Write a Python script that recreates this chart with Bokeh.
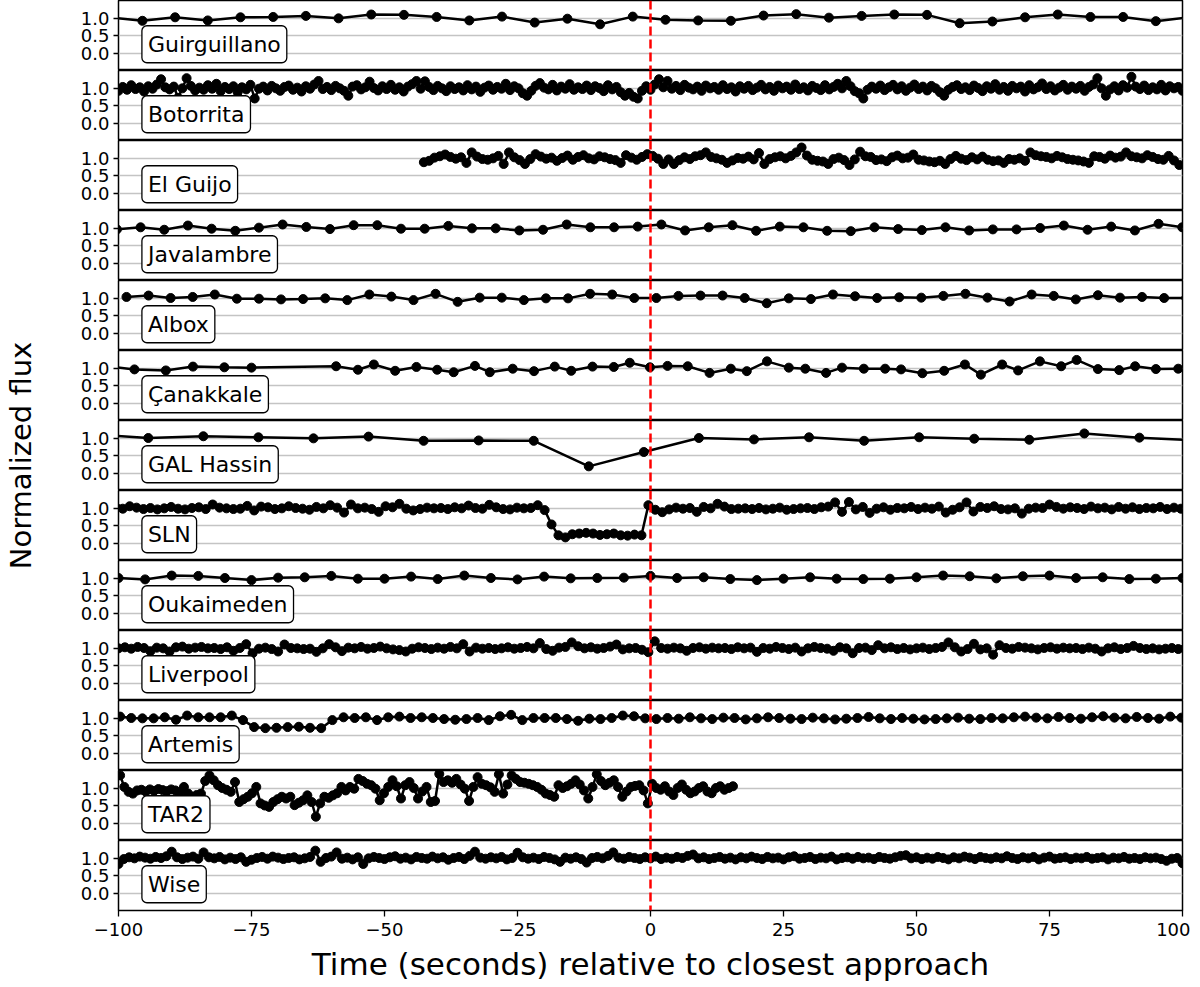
import numpy as np
from bokeh.plotting import figure
from bokeh.layouts import column, row
from bokeh.models import (Span, Label, FixedTicker, PrintfTickFormatter,
                          CustomJSTickFormatter, Range1d)
from bokeh.embed import file_html
from bokeh.resources import INLINE

# ---------------------------------------------------------------- data
stations = ["Guirguillano", "Botorrita", "El Guijo", "Javalambre", "Albox",
            "Çanakkale", "GAL Hassin", "SLN", "Oukaimeden", "Liverpool",
            "Artemis", "TAR2", "Wise"]

x_ticks = [-100, -75, -50, -25, 0, 25, 50, 75, 100]
y_ticks = [0.0, 0.5, 1.0]

# evenly sampled light curves: first time, cadence (s), normalized flux
guirguillano_t0, guirguillano_dt = -101.65, 6.145
guirguillano_flux = [1.02, 0.92, 1.02, 0.93, 1.02, 1.03, 1.06, 0.99, 1.10, 1.09,
                     1.03, 0.93, 1.04, 0.87, 0.98, 0.82, 1.04, 0.95, 0.93, 0.92,
                     1.07, 1.11, 1.01, 1.06, 1.10, 1.09, 0.85, 0.90, 1.02, 1.10,
                     1.03, 1.03, 0.91, 1.02]

botorrita_t0, botorrita_dt = -100.0, 0.8
botorrita_flux = [
    0.92, 1.03, 0.95, 1.08, 0.97, 1.02, 0.90, 1.05, 0.98, 1.10,
    1.25, 1.02, 0.96, 1.04, 0.72, 0.99, 1.28, 1.06, 0.93, 1.01,
    0.95, 1.08, 0.98, 1.12, 0.91, 1.03, 0.97, 1.05, 0.88, 1.02,
    0.96, 1.09, 0.70, 0.98, 1.04, 0.93, 1.06, 0.99, 0.92, 1.03,
    1.07, 0.95, 1.01, 0.90, 1.05, 0.98, 1.10, 1.20, 0.97, 1.03,
    0.94, 1.06, 0.99, 0.92, 0.78, 1.04, 1.08, 0.96, 1.02, 1.18,
    1.00, 0.93, 1.05, 0.97, 1.09, 0.95, 1.02, 0.90, 1.04, 1.11,
    1.20, 0.98, 1.19, 1.03, 0.94, 1.06, 0.99, 0.91, 1.05, 0.97,
    1.02, 0.93, 1.08, 0.96, 1.04, 0.89, 1.01, 1.07, 0.95, 1.03,
    0.98, 1.12, 0.94, 1.05, 0.99, 0.85, 0.78, 0.92, 1.06, 1.14,
    1.01, 0.96, 1.09, 0.93, 1.04, 0.98, 1.11, 0.95, 1.02, 0.97,
    1.07, 0.94, 1.05, 1.00, 0.91, 1.08, 0.96, 1.03, 0.88, 0.78,
    0.86, 0.75, 0.70, 0.92, 1.05, 0.95, 1.10, 1.25, 1.02, 1.20,
    0.98, 1.06, 0.94, 1.09, 1.01, 0.96, 1.04, 0.92, 1.07, 0.99,
    1.03, 0.95, 1.08, 0.97, 1.02, 0.90, 1.05, 0.98, 1.06, 0.94,
    1.01, 1.09, 0.96, 1.03, 0.92, 1.07, 0.99, 1.04, 0.95, 1.10,
    0.97, 1.02, 0.93, 1.06, 1.00, 0.94, 1.08, 0.96, 1.03, 1.12,
    0.99, 1.20, 1.05, 0.91, 0.85, 0.70, 0.95, 1.04, 0.98, 1.07,
    0.94, 1.02, 1.09, 0.96, 1.05, 0.92, 1.01, 1.10, 0.97, 1.04,
    0.93, 1.06, 0.99, 0.88, 0.78, 0.95, 1.03, 1.08, 0.97, 1.02,
    0.94, 1.07, 1.00, 0.91, 1.05, 0.98, 1.11, 0.95, 1.03, 0.92,
    1.06, 0.99, 1.04, 0.90, 1.08, 0.96, 1.02, 1.13, 0.97, 1.05,
    0.93, 1.01, 1.09, 0.95, 1.04, 0.98, 1.06, 0.92, 1.03, 1.10,
    1.28, 0.99, 0.78, 0.96, 1.05, 0.93, 1.08, 1.01, 1.32, 1.04,
    0.97, 1.07, 0.94, 1.02, 0.96, 1.09, 0.93, 1.05, 0.99, 1.03,
    0.92]

el_guijo_t0, el_guijo_dt = -42.6, 1.0
el_guijo_flux = [
    0.88, 0.92, 1.01, 1.05, 1.10, 1.03, 0.98, 1.02, 0.86, 1.16,
    1.04, 0.97, 0.95, 0.99, 1.06, 0.83, 1.16, 1.02, 0.94, 0.83,
    0.97, 1.11, 1.04, 0.98, 1.01, 0.92, 1.00, 1.07, 0.95, 1.03,
    1.08, 0.99, 0.96, 1.05, 1.02, 0.97, 0.94, 0.86, 1.08, 1.01,
    0.95, 1.03, 1.11, 1.06, 0.98, 0.83, 0.96, 0.83, 0.94, 1.02,
    0.97, 1.05, 1.08, 1.16, 1.03, 0.99, 0.95, 0.86, 0.93, 1.00,
    0.98, 1.04, 0.96, 1.14, 0.83, 0.97, 1.02, 1.05, 0.99, 1.06,
    1.16, 1.30, 1.07, 0.95, 0.92, 0.90, 0.83, 0.97, 1.01, 0.94,
    0.80, 0.96, 1.18, 1.05, 1.03, 0.94, 0.96, 0.91, 1.02, 1.07,
    0.99, 1.01, 1.10, 0.95, 0.93, 0.90, 0.88, 0.92, 0.83, 0.97,
    1.06, 0.98, 0.94, 1.02, 0.96, 1.04, 0.95, 0.91, 0.93, 0.86,
    0.97, 0.95, 0.99, 0.92, 1.16, 1.08, 1.05, 1.03, 0.99, 1.06,
    1.02, 0.97, 0.95, 0.93, 0.90, 0.86, 1.05, 1.03, 0.98, 1.07,
    1.01, 1.04, 1.16, 1.05, 1.02, 0.99, 1.08, 1.03, 0.97, 0.95,
    1.06, 0.93, 0.80]

javalambre_t0, javalambre_dt = -100.3, 4.45
javalambre_flux = [0.96, 1.02, 0.95, 1.07, 0.98, 0.92, 1.01, 1.10, 1.03, 0.97,
                   1.08, 1.08, 0.98, 0.98, 1.06, 0.99, 0.99, 0.93, 0.95, 1.10,
                   1.02, 1.02, 1.04, 1.10, 0.93, 1.02, 1.08, 0.92, 1.04, 1.02,
                   0.92, 0.91, 1.02, 0.97, 0.94, 1.02, 0.93, 0.96, 0.96, 1.00,
                   1.07, 0.95, 1.04, 0.93, 1.12, 1.02]

albox_t0, albox_dt = -98.5, 4.15
albox_flux = [1.03, 1.07, 1.00, 1.03, 1.10, 0.98, 0.98, 0.96, 0.97, 0.99,
              0.94, 1.10, 1.04, 0.94, 1.12, 0.89, 1.01, 1.01, 0.94, 0.99,
              0.99, 1.12, 1.10, 1.00, 1.00, 1.06, 1.07, 1.07, 1.00, 0.85,
              0.99, 0.97, 1.10, 1.05, 1.00, 1.02, 1.01, 1.06, 1.12, 1.01,
              0.90, 1.10, 1.06, 0.96, 1.08, 1.01, 1.03, 1.00, 1.00]

# unevenly sampled
canakkale_time = [-101.5, -97.0, -91.1, -86.0, -80.1, -75.0, -59.1, -55.0, -52.0, -48.0,
                  -44.0, -40.1, -37.0, -33.0, -30.2, -25.9, -21.9, -18.0, -14.9, -10.9,
                  -6.9, -3.9, -0.1, 3.2, 7.0, 11.1, 15.1, 18.1, 21.9, 26.0,
                  29.1, 33.0, 36.0, 40.1, 44.1, 47.1, 51.1, 55.2, 59.1, 62.1,
                  66.1, 69.1, 73.2, 77.2, 80.1, 84.1, 88.1, 91.1, 95.0, 99.2]
canakkale_flux = [1.04, 0.96, 0.93, 1.04, 1.02, 1.01, 1.05, 0.95, 1.10, 0.92,
                  1.03, 0.95, 0.88, 1.06, 0.88, 0.98, 0.91, 1.04, 0.92, 1.04,
                  1.03, 1.15, 1.02, 1.06, 1.05, 0.86, 0.98, 0.91, 1.19, 1.01,
                  0.98, 0.86, 1.01, 0.98, 0.98, 0.96, 0.85, 0.92, 1.10, 0.81,
                  1.10, 0.93, 1.19, 1.05, 1.23, 0.97, 0.94, 1.05, 0.97, 0.98]

gal_hassin_t0, gal_hassin_dt = -104.75, 10.35
gal_hassin_flux = [1.10, 1.00, 1.05, 1.02, 0.99, 1.04, 0.92, 0.93, 0.92, 0.19,
                   0.60, 1.00, 0.96, 1.02, 0.92, 1.02, 0.98, 0.95, 1.13, 1.01,
                   0.93]

sln_t0, sln_dt = -100.5, 1.3
sln_flux = [
    1.02, 0.98, 1.05, 1.01, 0.97, 1.00, 0.96, 0.99, 1.03, 0.98,
    0.96, 1.00, 1.02, 0.97, 1.10, 1.01, 0.99, 0.97, 0.98, 1.06,
    0.93, 1.04, 1.02, 0.97, 0.99, 1.05, 1.00, 0.98, 0.95, 1.03,
    0.99, 1.08, 1.01, 0.87, 1.10, 0.99, 1.01, 0.97, 0.89, 1.05,
    1.02, 1.12, 0.98, 0.93, 0.97, 1.01, 0.99, 1.00, 0.97, 1.02,
    0.99, 1.07, 1.00, 0.98, 1.09, 1.02, 0.97, 0.96, 1.01, 0.99,
    1.00, 1.08, 0.94, 0.53, 0.22, 0.16, 0.25, 0.27, 0.29, 0.27,
    0.23, 0.25, 0.27, 0.22, 0.21, 0.24, 0.22, 1.08, 0.95, 0.88,
    0.96, 1.01, 0.98, 1.00, 0.89, 1.03, 0.99, 1.12, 1.04, 0.97,
    0.98, 0.99, 0.97, 1.00, 0.96, 0.98, 1.01, 0.95, 0.97, 0.99,
    1.00, 0.97, 1.02, 1.04, 1.16, 0.89, 1.17, 0.96, 1.03, 0.86,
    0.98, 1.02, 0.95, 1.00, 0.99, 1.03, 0.97, 1.01, 0.98, 1.04,
    0.87, 0.95, 1.02, 1.16, 0.90, 1.03, 1.00, 1.05, 0.97, 0.96,
    0.99, 0.84, 0.98, 1.01, 1.00, 1.10, 1.03, 0.98, 1.02, 1.00,
    0.97, 1.04, 0.99, 1.01, 0.96, 1.03, 0.98, 1.02, 0.97, 1.00,
    0.99, 1.03, 0.97, 1.01, 0.98, 1.00]

oukaimeden_t0, oukaimeden_dt = -100.0, 5.0
oukaimeden_flux = [1.00, 0.96, 1.07, 1.06, 1.00, 0.94, 1.01, 1.02, 1.06, 0.98,
                   0.98, 1.04, 0.97, 1.07, 1.00, 0.96, 1.04, 0.99, 1.00, 1.01,
                   1.06, 1.00, 1.02, 0.97, 0.94, 0.98, 1.02, 0.98, 0.97, 0.98,
                   1.02, 1.07, 1.05, 0.99, 1.05, 1.07, 1.00, 1.02, 0.97, 0.98,
                   1.00]

liverpool_t0, liverpool_dt = -100.0, 1.2
liverpool_flux = [
    0.99, 1.02, 0.98, 1.03, 1.00, 0.91, 1.01, 0.99, 0.90, 1.02,
    1.04, 0.98, 1.01, 1.03, 0.99, 1.00, 0.97, 1.02, 0.92, 1.00,
    1.11, 0.85, 0.98, 1.01, 0.97, 0.90, 1.10, 1.00, 0.99, 0.97,
    0.98, 0.89, 0.99, 1.11, 1.02, 0.91, 1.01, 0.99, 1.03, 0.98,
    1.00, 1.04, 0.99, 0.96, 0.94, 0.90, 0.98, 1.02, 1.00, 0.97,
    1.01, 0.98, 1.03, 0.99, 1.11, 0.90, 1.01, 0.98, 1.00, 0.97,
    0.99, 1.02, 0.98, 1.00, 1.03, 0.99, 1.14, 0.97, 0.92, 1.01,
    1.03, 1.16, 1.05, 0.99, 1.02, 0.98, 1.00, 1.04, 1.10, 0.96,
    0.99, 1.00, 0.95, 0.88, 1.19, 1.00, 0.98, 1.01, 0.99, 0.92,
    1.00, 1.02, 0.98, 1.01, 0.99, 1.00, 0.97, 1.02, 0.99, 1.01,
    0.89, 1.00, 0.98, 1.03, 1.00, 0.97, 1.01, 0.90, 0.99, 1.03,
    1.00, 0.98, 0.92, 1.02, 0.99, 0.85, 1.00, 1.01, 0.94, 1.08,
    0.99, 1.02, 0.97, 1.00, 0.96, 0.99, 1.01, 0.97, 1.00, 1.03,
    1.16, 1.02, 0.90, 0.97, 1.12, 0.96, 0.99, 0.81, 1.08, 1.00,
    0.98, 1.03, 1.01, 0.99, 0.96, 1.00, 1.02, 0.98, 1.01, 0.99,
    1.00, 0.97, 1.01, 0.98, 0.90, 0.99, 1.02, 0.97, 1.00, 1.06,
    1.00, 0.97, 0.99, 0.96, 0.98, 1.00, 0.97, 0.98]

artemis_t0, artemis_dt = -99.7, 2.1
artemis_flux = [
    1.04, 1.00, 0.99, 0.99, 1.02, 0.95, 1.07, 1.02, 1.02, 1.02, 1.07, 0.94,
    0.74, 0.71, 0.72, 0.74, 0.75, 0.72, 0.71,
    0.94, 1.02, 1.00, 1.02, 0.94, 1.02, 1.04, 1.00, 1.02, 1.00,
    0.97, 0.95, 0.97, 1.00, 0.94, 1.05, 1.09, 0.94, 1.00, 1.00,
    1.00, 0.97, 0.92, 0.98, 0.97, 1.00, 1.07, 1.05, 0.99, 0.97,
    1.00, 0.98, 1.02, 0.99, 0.97, 1.01, 1.00, 0.96, 0.99, 1.02,
    1.00, 0.98, 0.97, 1.01, 0.99, 0.96, 0.98, 1.00, 1.03, 0.99,
    0.97, 1.00, 0.98, 0.96, 0.97, 0.99, 1.01, 0.98, 0.97, 1.00,
    0.99, 1.02, 1.04, 1.01, 0.99, 1.03, 1.00, 0.98, 1.02, 1.05,
    1.01, 0.99, 1.03, 1.00, 0.98, 1.04, 1.01, 0.99]

tar2_t0, tar2_dt = -99.7, 0.8
tar2_flux = [
    1.36, 1.03, 0.89, 0.84, 0.93, 0.95, 0.90, 0.96, 0.92, 0.97,
    0.94, 0.91, 0.96, 0.93, 0.88, 1.03, 0.84, 0.75, 0.80, 0.84,
    1.20, 1.36, 1.22, 1.08, 1.00, 0.95, 0.89, 1.17, 0.60, 0.68,
    0.75, 0.85, 1.03, 0.56, 0.50, 0.46, 0.60, 0.68, 0.75, 0.70,
    0.75, 0.51, 0.58, 0.65, 0.79, 0.60, 0.18, 0.56, 0.75, 0.72,
    0.79, 0.85, 1.03, 0.93, 1.03, 0.98, 1.26, 1.20, 1.12, 1.08,
    0.98, 0.65, 0.85, 1.03, 1.22, 1.05, 0.70, 1.08, 1.17, 1.00,
    0.70, 0.90, 1.03, 0.60, 0.63, 1.40, 1.17, 1.22, 1.15, 1.26,
    1.10, 0.98, 0.63, 1.03, 1.31, 1.12, 1.08, 1.02, 0.89, 1.39,
    0.84, 1.10, 1.36, 1.26, 1.17, 1.15, 1.12, 1.08, 1.03, 0.95,
    0.84, 0.80, 0.75, 1.08, 1.00, 1.05, 1.12, 1.22, 1.10, 0.93,
    0.70, 1.03, 1.39, 1.20, 1.08, 1.15, 1.22, 1.03, 0.75, 0.90,
    1.03, 1.06, 1.08, 0.93, 0.56, 1.12, 1.00, 0.95, 1.05, 0.90,
    0.80, 1.00, 1.10, 0.95, 0.85, 0.90, 1.00, 1.05, 0.90, 0.85,
    1.00, 1.05, 0.95, 1.00, 1.05]

wise_t0, wise_dt = -100.0, 1.0
wise_flux = [
    0.83, 0.97, 1.02, 0.99, 1.04, 1.01, 0.98, 1.03, 1.00, 1.05,
    1.18, 1.02, 0.97, 1.01, 1.04, 0.98, 1.16, 1.02, 0.99, 1.03,
    0.96, 1.01, 0.97, 1.02, 0.89, 0.95, 1.00, 1.03, 0.98, 1.04,
    1.01, 0.97, 1.00, 1.02, 0.96, 0.99, 1.03, 1.21, 0.89, 1.00,
    1.04, 1.16, 0.98, 1.01, 0.96, 1.02, 0.83, 0.99, 1.03, 1.00,
    0.97, 1.02, 1.05, 0.98, 1.01, 0.96, 1.03, 1.00, 0.98, 1.04,
    0.99, 1.02, 0.95, 1.00, 1.03, 0.97, 1.06, 1.18, 1.01, 0.98,
    1.02, 0.99, 1.03, 0.96, 1.00, 1.15, 1.02, 0.98, 1.01, 0.97,
    1.03, 1.00, 0.96, 0.89, 1.01, 0.98, 1.02, 0.97, 0.87, 1.00,
    1.03, 0.99, 1.06, 1.16, 1.01, 0.98, 1.03, 1.00, 0.97, 1.02,
    0.99, 1.04, 0.97, 1.01, 0.98, 1.03, 1.00, 1.06, 1.10, 0.99,
    1.02, 0.97, 1.00, 1.03, 0.98, 1.01, 0.96, 1.02, 0.99, 1.04,
    1.00, 0.97, 1.03, 0.99, 1.01, 0.96, 1.02, 1.05, 0.98, 1.00,
    1.03, 0.97, 1.01, 0.99, 1.04, 0.96, 1.00, 1.02, 0.98, 1.03,
    0.99, 1.01, 0.97, 1.03, 1.00, 0.98, 1.02, 1.06, 1.08, 0.99,
    1.02, 0.97, 1.01, 0.98, 1.03, 1.00, 0.96, 1.02, 0.99, 1.04,
    1.01, 0.97, 1.03, 1.00, 0.98, 1.02, 0.99, 1.05, 1.00, 0.97,
    1.02, 0.99, 1.03, 0.96, 1.01, 1.04, 0.98, 1.00, 1.02, 0.97,
    1.01, 0.99, 1.03, 0.98, 1.00, 1.02, 0.96, 1.01, 0.99, 1.03,
    0.98, 1.00, 0.97, 1.02, 0.99, 1.01, 0.97, 0.92, 0.98, 1.00,
    0.85]


def even(t0, dt, flux):
    return t0 + dt * np.arange(len(flux)), np.asarray(flux)


curves = {
    "Guirguillano": even(guirguillano_t0, guirguillano_dt, guirguillano_flux),
    "Botorrita": even(botorrita_t0, botorrita_dt, botorrita_flux),
    "El Guijo": even(el_guijo_t0, el_guijo_dt, el_guijo_flux),
    "Javalambre": even(javalambre_t0, javalambre_dt, javalambre_flux),
    "Albox": even(albox_t0, albox_dt, albox_flux),
    "Çanakkale": (np.asarray(canakkale_time), np.asarray(canakkale_flux)),
    "GAL Hassin": even(gal_hassin_t0, gal_hassin_dt, gal_hassin_flux),
    "SLN": even(sln_t0, sln_dt, sln_flux),
    "Oukaimeden": even(oukaimeden_t0, oukaimeden_dt, oukaimeden_flux),
    "Liverpool": even(liverpool_t0, liverpool_dt, liverpool_flux),
    "Artemis": even(artemis_t0, artemis_dt, artemis_flux),
    "TAR2": even(tar2_t0, tar2_dt, tar2_flux),
    "Wise": even(wise_t0, wise_dt, wise_flux),
}

# ---------------------------------------------------------------- figure
FONT = "DejaVu Sans"
PANEL_H = 70
LABEL_W = 40
x_range = Range1d(-100, 100)
figs = []
n = len(stations)
for i, name in enumerate(stations):
    last = i == n - 1
    p = figure(frame_width=1064, frame_height=PANEL_H,
               x_range=x_range, y_range=Range1d(-0.5, 1.5),
               x_axis_location="below" if last else None,
               output_backend="svg", toolbar_location=None,
               min_border_left=118 - LABEL_W, min_border_right=8,
               min_border_top=0, min_border_bottom=0,
               background_fill_color="white", border_fill_color="white")
    p.outline_line_color = "black"
    p.outline_line_width = 1.5
    p.xgrid.visible = False
    p.ygrid.ticker = FixedTicker(ticks=y_ticks)
    p.ygrid.grid_line_color = "#c4c4c4"
    p.ygrid.grid_line_width = 1.5

    yax = p.yaxis[0]
    yax.ticker = FixedTicker(ticks=y_ticks)
    yax.formatter = PrintfTickFormatter(format="%.1f")
    yax.major_label_text_font = FONT
    yax.major_label_text_font_size = "18px"
    yax.major_label_text_color = "black"
    yax.major_tick_out = 5
    yax.major_tick_in = 0
    yax.major_tick_line_width = 1.3
    yax.minor_tick_line_color = None
    yax.axis_line_color = None
    yax.major_label_standoff = 4

    if last:
        xax = p.xaxis[0]
        xax.ticker = FixedTicker(ticks=x_ticks)
        xax.formatter = CustomJSTickFormatter(
            code="return (tick < 0 ? '\u2212' : '') + Math.abs(tick).toFixed(0);")
        xax.major_label_text_font = FONT
        xax.major_label_text_font_size = "18px"
        xax.major_label_text_color = "black"
        xax.major_tick_out = 6
        xax.major_tick_in = 0
        xax.major_tick_line_width = 1.3
        xax.minor_tick_line_color = None
        xax.axis_line_color = None
        xax.major_label_standoff = 6
        xax.axis_label = "Time (seconds) relative to closest approach"
        xax.axis_label_text_font = FONT
        xax.axis_label_text_font_size = "31px"
        xax.axis_label_text_font_style = "normal"
        xax.axis_label_text_color = "black"
        xax.axis_label_standoff = 7

    t, f = curves[name]
    p.line(t, f, line_color="black", line_width=2.5)
    p.scatter(t, f, size=9, fill_color="black", line_color="black")

    p.add_layout(Span(location=0, dimension="height", line_color="red",
                      line_dash="9 4", line_width=2.5))
    p.add_layout(Label(x=-95.6, y=0.25, text=name, text_font=FONT,
                       text_font_size="22px", text_color="black",
                       text_align="left", text_baseline="middle",
                       background_fill_color="white", background_fill_alpha=1.0,
                       border_line_color="black", border_line_width=1.3,
                       padding=6, border_radius=5))
    figs.append(p)

# shared y-axis title in its own narrow strip on the left
ylab = figure(frame_width=LABEL_W, frame_height=PANEL_H * n,
              x_range=Range1d(0, 1), y_range=Range1d(0, 1),
              x_axis_location=None, y_axis_location=None,
              output_backend="svg", toolbar_location=None,
              min_border_left=0, min_border_right=0,
              min_border_top=0, min_border_bottom=0,
              background_fill_color="white", border_fill_color="white")
ylab.outline_line_color = None
ylab.grid.visible = False
ylab.add_layout(Label(x=0.5, y=0.5, text="Normalized flux", angle=np.pi / 2,
                      text_font=FONT, text_font_size="29px", text_color="black",
                      text_align="center", text_baseline="middle"))

layout = row(ylab, column(*figs, spacing=0), spacing=0)
with open("out.html", "w", encoding="utf-8") as fh:
    fh.write(file_html(layout, INLINE))
